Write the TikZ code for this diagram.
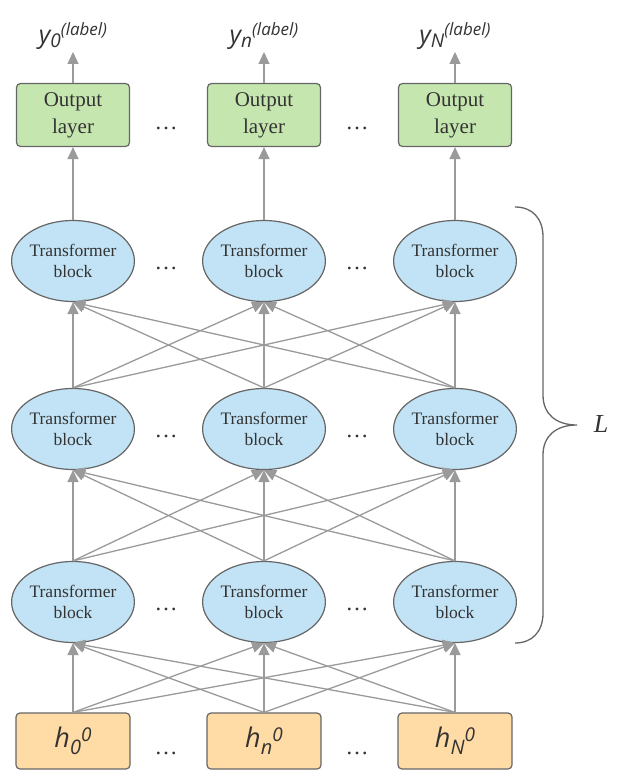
\documentclass[tikz,border=0pt]{standalone}
\usepackage{fontspec}
\setmainfont{Liberation Serif}
\newfontfamily\labsans{Open Sans}
\usetikzlibrary{arrows.meta,positioning,shapes.geometric}
\definecolor{outgreen}{HTML}{C6E6AF}
\definecolor{blockblue}{HTML}{C2E3F5}
\definecolor{inorange}{HTML}{FFDBA6}
\definecolor{edgegray}{HTML}{9A9A9A}
\definecolor{bordergray}{HTML}{666666}
\definecolor{inktext}{HTML}{333333}
% output symbol y_n^(label) and input symbol h_n^0
\newcommand{\outsym}[1]{{\labsans\itshape\fontsize{25}{25}\selectfont y\raisebox{-3.5pt}{\fontsize{19}{19}\selectfont #1}\raisebox{8pt}{\fontsize{17}{17}\selectfont (label)}}}
\newcommand{\insym}[1]{{\labsans\itshape\fontsize{27}{27}\selectfont h\raisebox{-7pt}{\fontsize{20}{20}\selectfont #1}\raisebox{6pt}{\fontsize{19}{19}\selectfont 0}}}

\begin{document}
\begin{tikzpicture}[x=1pt,y=-1pt,
    every node/.style={text=inktext},
    outbox/.style={draw=bordergray,line width=1.2pt,fill=outgreen,rounded corners=4pt,
      minimum width=113pt,minimum height=63pt,inner sep=0pt,align=center,
      font=\fontsize{21}{27}\selectfont},
    tblock/.style={ellipse,draw=bordergray,line width=1.2pt,fill=blockblue,
      minimum width=121pt,minimum height=81pt,inner sep=0pt,align=center,
      font=\fontsize{17.5}{21}\selectfont},
    inbox/.style={draw=bordergray,line width=1.2pt,fill=inorange,rounded corners=4pt,
      minimum width=114pt,minimum height=56pt,inner sep=0pt},
    link/.style={draw=edgegray,line width=1.3pt,-{Triangle[length=12pt,width=11pt]}},
    gap/.style={font=\fontsize{23}{23}\selectfont,inner sep=0pt}]
  \useasboundingbox (0,0) rectangle (623,781);

  % columns 0, n, N
  \foreach \c/\x/\s in {0/73/0,1/264/n,2/455/N}{
    \node[inbox] (in\c) at (\x,741) {\insym{\s}};
    \node[tblock] (tba\c) at (\x,602) {Transformer\\block};
    \node[tblock] (tbb\c) at (\x,429) {Transformer\\block};
    \node[tblock] (tbc\c) at (\x,261) {Transformer\\block};
    \node[outbox] (out\c) at (\x,115) {Output\\layer};
    \node[anchor=south,inner sep=2pt] (lab\c) at (\x,52) {\outsym{\s}};
  }

  % dots between columns
  \foreach \r/\y in {a/753,b/609,c/436,d/268,e/128}{
    \node[gap] (gapl\r) at (166,\y) {\textellipsis};
    \node[gap] (gapr\r) at (357,\y) {\textellipsis};
  }

  % every block feeds every block of the next layer
  \foreach \a in {0,1,2}{
    \foreach \b in {0,1,2}{
      \draw[link] (in\a.north) -- (tba\b.south);
      \draw[link] (tba\a.north) -- (tbb\b.south);
      \draw[link] (tbb\a.north) -- (tbc\b.south);
    }
    \draw[link] (tbc\a.north) -- (out\a.south);
    \draw[link] (out\a.north) -- (lab\a.south);
  }

  % brace over the L layers
  \draw[bordergray,line width=1.3pt]
    (515,207) .. controls (532,207) and (543,218) .. (543,237) -- (543,395)
    .. controls (543,414) and (556,425) .. (577,425)
    .. controls (556,425) and (543,436) .. (543,455) -- (543,613)
    .. controls (543,632) and (532,643) .. (515,643);
  \node[font=\fontsize{26}{26}\selectfont\itshape] (depth) at (601,424) {L};
\end{tikzpicture}
\end{document}
